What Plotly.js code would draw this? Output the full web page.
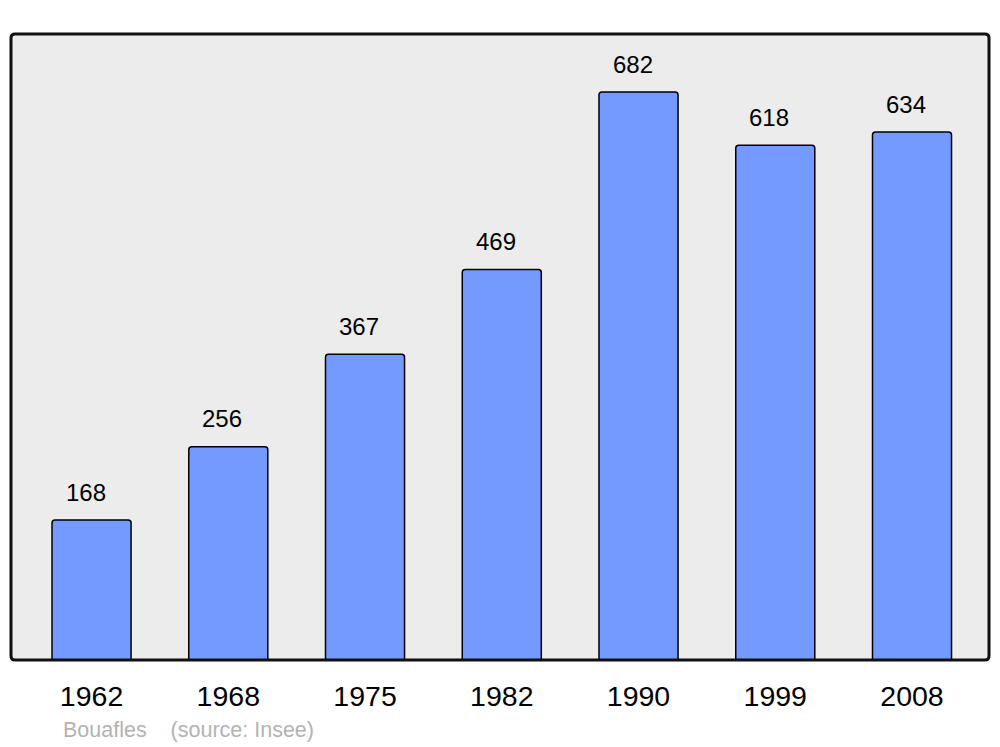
<!DOCTYPE html>
<html>
<head>
<meta charset="utf-8">
<script src="https://cdn.plot.ly/plotly-3.0.1.min.js"></script>
<style>html,body{margin:0;padding:0;background:#fff;}#chart{width:1000px;height:747px;}</style>
</head>
<body>
<div id="chart"></div>
<script>
const years = ["1962", "1968", "1975", "1982", "1990", "1999", "2008"];
const population = [168, 256, 367, 469, 682, 618, 634];
const captionText = "Bouafles&nbsp;&nbsp;&nbsp;&nbsp;(source: Insee)";

const W = 978, H = 626, r = 4;
const rx = r / W, ry = r / H;
const framePath = `M ${rx},0 L ${1-rx},0 Q 1,0 1,${ry} L 1,${1-ry} Q 1,1 ${1-rx},1 L ${rx},1 Q 0,1 0,${1-ry} L 0,${ry} Q 0,0 ${rx},0 Z`;

const trace = {
  type: 'bar',
  x: years,
  y: population,
  width: 0.578,
  marker: {color: '#7499ff', line: {color: '#000', width: 1.5}, cornerradius: 3},
  hoverinfo: 'none'
};

const annotations = years.map((yr, i) => ({
  x: i, y: population[i], xref: 'x', yref: 'y',
  text: String(population[i]), showarrow: false,
  yanchor: 'middle', xanchor: 'center', yshift: 28, xshift: -6,
  font: {family: 'Liberation Sans, Arial, sans-serif', size: 24, color: '#000'}
}));
annotations.push({
  xref: 'paper', yref: 'paper', x: 50 / 978, y: -0.112,
  xanchor: 'left', yanchor: 'middle', showarrow: false,
  text: captionText,
  font: {family: 'Liberation Sans, Arial, sans-serif', size: 21.5, color: '#b3b3b3'}
});

const layout = {
  width: 1000, height: 747,
  margin: {l: 11, r: 11, t: 34, b: 87, pad: 0},
  paper_bgcolor: '#ffffff',
  plot_bgcolor: '#ececec',
  showlegend: false,
  xaxis: {
    type: 'category', range: [-0.589, 6.563], showgrid: false, zeroline: false,
    showline: false, ticks: '', ticklabelstandoff: 16,
    tickfont: {family: 'Liberation Sans, Arial, sans-serif', size: 28.5, color: '#000'},
    fixedrange: true
  },
  yaxis: {
    range: [0, 751.7], showgrid: false, zeroline: false, showline: false,
    showticklabels: false, ticks: '', fixedrange: true
  },
  shapes: [{
    type: 'path', xref: 'paper', yref: 'paper', path: framePath,
    line: {color: '#111', width: 3}, layer: 'above'
  }],
  annotations: annotations
};

Plotly.newPlot('chart', [trace], layout, {staticPlot: true, displayModeBar: false});
</script>
</body>
</html>
